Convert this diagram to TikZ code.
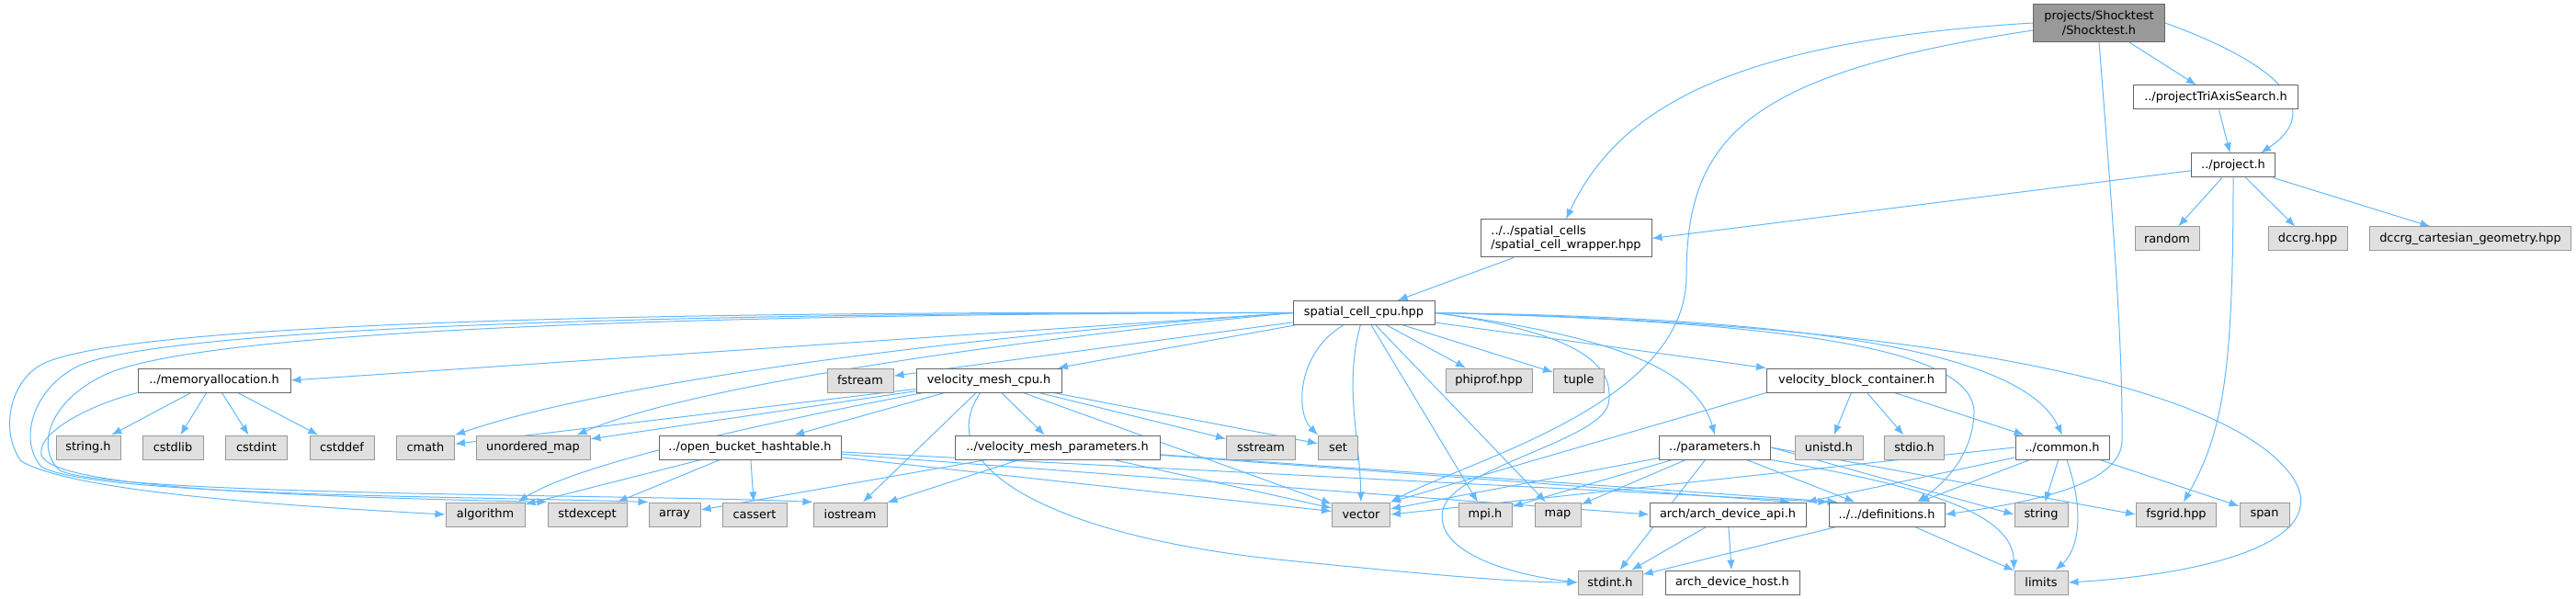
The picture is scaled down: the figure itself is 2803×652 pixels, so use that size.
\documentclass[tikz,border=0pt]{standalone}
\usepackage{fontspec}
\setmainfont{DejaVu Sans}
\usetikzlibrary{arrows.meta,backgrounds}
\definecolor{edgeblue}{HTML}{63B8FF}
\definecolor{sysfill}{HTML}{E0E0E0}
\definecolor{sysdraw}{HTML}{999999}
\definecolor{hdrdraw}{HTML}{666666}
\begin{document}
\begin{tikzpicture}[x=1pt, y=-1pt,
    hdr/.style={shape=rectangle, draw=hdrdraw, fill=white, line width=1pt, minimum height=26pt, inner sep=0pt, font=\fontsize{12.9}{15.5}\selectfont},
    sys/.style={hdr, draw=sysdraw, fill=sysfill},
    inc/.style={draw=edgeblue, line width=1pt, -{Latex[length=11pt,width=8.5pt]}}]
\useasboundingbox (0,0) rectangle (2803,652);

\node[hdr, fill=sysdraw, minimum width=143pt, minimum height=41pt, align=center] (S) at (2284,25) {projects/Shocktest\\/Shocktest.h};
\node[hdr, minimum width=179pt] (PT) at (2411,106) {../projectTriAxisSearch.h};
\node[hdr, minimum width=91pt] (P) at (2430,180) {../project.h};
\node[hdr, minimum width=186pt, minimum height=41pt, align=left] (W) at (1704,259.5) {../../spatial\_cells\\/spatial\_cell\_wrapper.hpp};
\node[sys, minimum width=70pt] (random) at (2358,260) {random};
\node[sys, minimum width=86pt] (dccrg) at (2511,260) {dccrg.hpp};
\node[sys, minimum width=219pt] (dccrggeo) at (2688,260) {dccrg\_cartesian\_geometry.hpp};
\node[hdr, minimum width=154pt] (SC) at (1484,340.5) {spatial\_cell\_cpu.hpp};

\node[hdr, minimum width=166pt] (MA) at (233,414) {../memoryallocation.h};
\node[sys, minimum width=72pt] (fstream) at (936,414) {fstream};
\node[hdr, minimum width=158pt] (VMC) at (1076,414) {velocity\_mesh\_cpu.h};
\node[sys, minimum width=94pt] (phiprof) at (1620,414) {phiprof.hpp};
\node[sys, minimum width=55pt] (tuple) at (1718,414) {tuple};
\node[hdr, minimum width=195pt] (VBC) at (2020,414) {velocity\_block\_container.h};

\node[sys, minimum width=70pt] (stringh) at (96,487) {string.h};
\node[sys, minimum width=66pt] (cstdlib) at (188,487) {cstdlib};
\node[sys, minimum width=67pt] (cstdint) at (279,487) {cstdint};
\node[sys, minimum width=70pt] (cstddef) at (372,487) {cstddef};
\node[sys, minimum width=63pt] (cmath) at (463,487) {cmath};
\node[sys, minimum width=124pt] (umap) at (580,487) {unordered\_map};
\node[hdr, minimum width=198pt] (OBH) at (816,487) {../open\_bucket\_hashtable.h};
\node[hdr, minimum width=223pt] (VMP) at (1150.5,487) {../velocity\_mesh\_parameters.h};
\node[sys, minimum width=75pt] (sstream) at (1372,487) {sstream};
\node[sys, minimum width=43pt] (set) at (1456,487) {set};
\node[hdr, minimum width=121pt] (PAR) at (1866,487) {../parameters.h};
\node[sys, minimum width=74pt] (unistd) at (1990,487) {unistd.h};
\node[sys, minimum width=65pt] (stdio) at (2083,487) {stdio.h};
\node[hdr, minimum width=102pt] (common) at (2244,487) {../common.h};

\node[sys, minimum width=86pt] (algorithm) at (528,560) {algorithm};
\node[sys, minimum width=86pt] (stdexcept) at (639,560) {stdexcept};
\node[sys, minimum width=56pt] (array) at (734,560) {array};
\node[sys, minimum width=70pt] (cassert) at (821,560) {cassert};
\node[sys, minimum width=80pt] (iostream) at (925,560) {iostream};
\node[sys, minimum width=63pt] (vector) at (1481,560) {vector};
\node[sys, minimum width=58pt] (mpi) at (1616,560) {mpi.h};
\node[sys, minimum width=50pt] (map) at (1695,560) {map};
\node[hdr, minimum width=170pt] (ADA) at (1880,560) {arch/arch\_device\_api.h};
\node[hdr, minimum width=126pt] (DEF) at (2053,560) {../../definitions.h};
\node[sys, minimum width=58pt] (string) at (2221,560) {string};
\node[sys, minimum width=87pt] (fsgrid) at (2368,560) {fsgrid.hpp};
\node[sys, minimum width=54pt] (span) at (2464,560) {span};

\node[sys, minimum width=70pt] (stdint) at (1752,634) {stdint.h};
\node[hdr, minimum width=146pt] (ADH) at (1885,634) {arch\_device\_host.h};
\node[sys, minimum width=58pt] (limits) at (2221,634) {limits};

\begin{pgfonlayer}{background}
\draw[inc] (S.west) .. controls (1880,45) and (1760,120) .. (W.north);
\draw[inc] ([yshift=-8pt]S.west) .. controls (1900,80) and (1835,150) .. (1835,300) .. controls (1835,440) and (1600,500) .. (vector.north east);
\draw[inc] (S) -- (PT);
\draw[inc] (S.east) .. controls (2480,70) and (2530,120) .. ([xshift=30pt]P.north);
\draw[inc] (S.south) .. controls (2300,250) and (2310,380) .. (2309,480) .. controls (2308,530) and (2200,548) .. (DEF.east);
\draw[inc] (PT) -- (P);
\draw[inc] (P) -- (W.east);
\draw[inc] (P) -- (random);
\draw[inc] (P) -- (dccrg);
\draw[inc] (P) -- (dccrggeo);
\draw[inc] (P.south) .. controls (2430,400) and (2420,470) .. (fsgrid);
\draw[inc] (W) -- (SC);

\draw[inc] (SC.west) -- (MA.east);
\draw[inc] (SC) -- (fstream);
\draw[inc] (SC) -- (VMC);
\draw[inc] (SC) -- (phiprof);
\draw[inc] (SC) -- (tuple);
\draw[inc] (SC) -- (VBC);
\draw[inc] (SC.west) .. controls (1000,370) and (650,420) .. (cmath.north east);
\draw[inc] (SC.west) .. controls (1100,370) and (750,420) .. ([xshift=-15pt]umap.north east);
\draw[inc] (SC.west) .. controls (700,338) and (120,352) .. (43,398) .. controls (10,418) and (0,470) .. (23,502) .. controls (80,535) and (300,550) .. (algorithm.west);
\draw[inc] (SC.west) .. controls (700,340) and (160,358) .. (82,400) .. controls (35,425) and (20,480) .. (45,508) .. controls (100,540) and (500,540) .. (array.north west);
\draw[inc] (SC.west) .. controls (700,342) and (200,362) .. (110,410) .. controls (50,440) and (40,490) .. (65,512) .. controls (120,540) and (700,538) .. (iostream.north west);
\draw[inc] (SC) .. controls (1410,385) and (1410,450) .. (set.north west);
\draw[inc] (SC) .. controls (1462,420) and (1480,480) .. (vector);
\draw[inc] (SC) -- (mpi);
\draw[inc] (SC) -- (map);
\draw[inc] (SC.east) .. controls (1700,360) and (1760,390) .. (1750,440) .. controls (1740,480) and (1580,510) .. (1570,555) .. controls (1560,600) and (1640,625) .. (stdint.west);
\draw[inc] (SC.east) .. controls (1750,365) and (1845,400) .. (PAR.north);
\draw[inc] (SC.east) .. controls (1950,345) and (2200,380) .. (common.north);
\draw[inc] (SC.east) .. controls (1950,350) and (2150,380) .. (2148,450) .. controls (2146,500) and (2110,530) .. ([xshift=33pt]DEF.north);
\draw[inc] (SC.east) .. controls (2050,350) and (2420,410) .. (2495,520) .. controls (2540,590) and (2400,625) .. (limits.east);

\draw[inc] (MA) -- (stringh);
\draw[inc] (MA) -- (cstdlib);
\draw[inc] (MA) -- (cstdint);
\draw[inc] (MA) -- (cstddef);
\draw[inc] (MA.south west) .. controls (100,440) and (40,470) .. (45,495) .. controls (55,530) and (300,540) .. (stdexcept.north west);

\draw[inc] (VMC) -- (cmath);
\draw[inc] (VMC) -- (umap);
\draw[inc] (VMC) .. controls (780,470) and (620,510) .. ([xshift=-8pt]algorithm.north east);
\draw[inc] (VMC) -- (OBH);
\draw[inc] (VMC) -- (VMP);
\draw[inc] (VMC) -- (sstream);
\draw[inc] (VMC) -- (set);
\draw[inc] (VMC) -- (vector);
\draw[inc] (VMC) -- (iostream);
\draw[inc] (VMC) .. controls (1010,510) and (1150,585) .. (1400,610) .. controls (1550,625) and (1650,634) .. (stdint.west);

\draw[inc] (OBH) -- (algorithm);
\draw[inc] (OBH) -- (stdexcept);
\draw[inc] (OBH) -- (cassert);
\draw[inc] (OBH) -- (vector);
\draw[inc] (OBH) -- (ADA.west);
\draw[inc] (OBH) -- (DEF.north west);

\draw[inc] (VMP) -- (array);
\draw[inc] (VMP) -- (iostream);
\draw[inc] (VMP) -- (vector);
\draw[inc] (VMP) -- ([xshift=68pt]ADA.north);
\draw[inc] (VMP) -- ([xshift=10pt]DEF.north west);

\draw[inc] (PAR) -- (vector);
\draw[inc] (PAR) -- (mpi);
\draw[inc] (PAR) -- (map);
\draw[inc] (PAR) -- (stdint);
\draw[inc] (PAR) -- (DEF);
\draw[inc] (PAR.east) -- (string.west);
\draw[inc] (PAR.east) -- (fsgrid.west);
\draw[inc] (PAR.south east) .. controls (2100,530) and (2190,560) .. (limits.north west);

\draw[inc] (VBC.south west) -- (vector.north east);
\draw[inc] (VBC) -- (unistd);
\draw[inc] (VBC) -- (stdio);
\draw[inc] (VBC) -- (common);

\draw[inc] (common.west) -- (vector.east);
\draw[inc] (common) -- (ADA.north east);
\draw[inc] (common) -- (DEF);
\draw[inc] (common) -- (string);
\draw[inc] (common) .. controls (2270,560) and (2260,600) .. (limits);
\draw[inc] (common) -- (span);

\draw[inc] (ADA) -- (stdint);
\draw[inc] (ADA) -- (ADH);
\draw[inc] (DEF) -- (stdint);
\draw[inc] (DEF) -- (limits);
\end{pgfonlayer}
\end{tikzpicture}
\end{document}
